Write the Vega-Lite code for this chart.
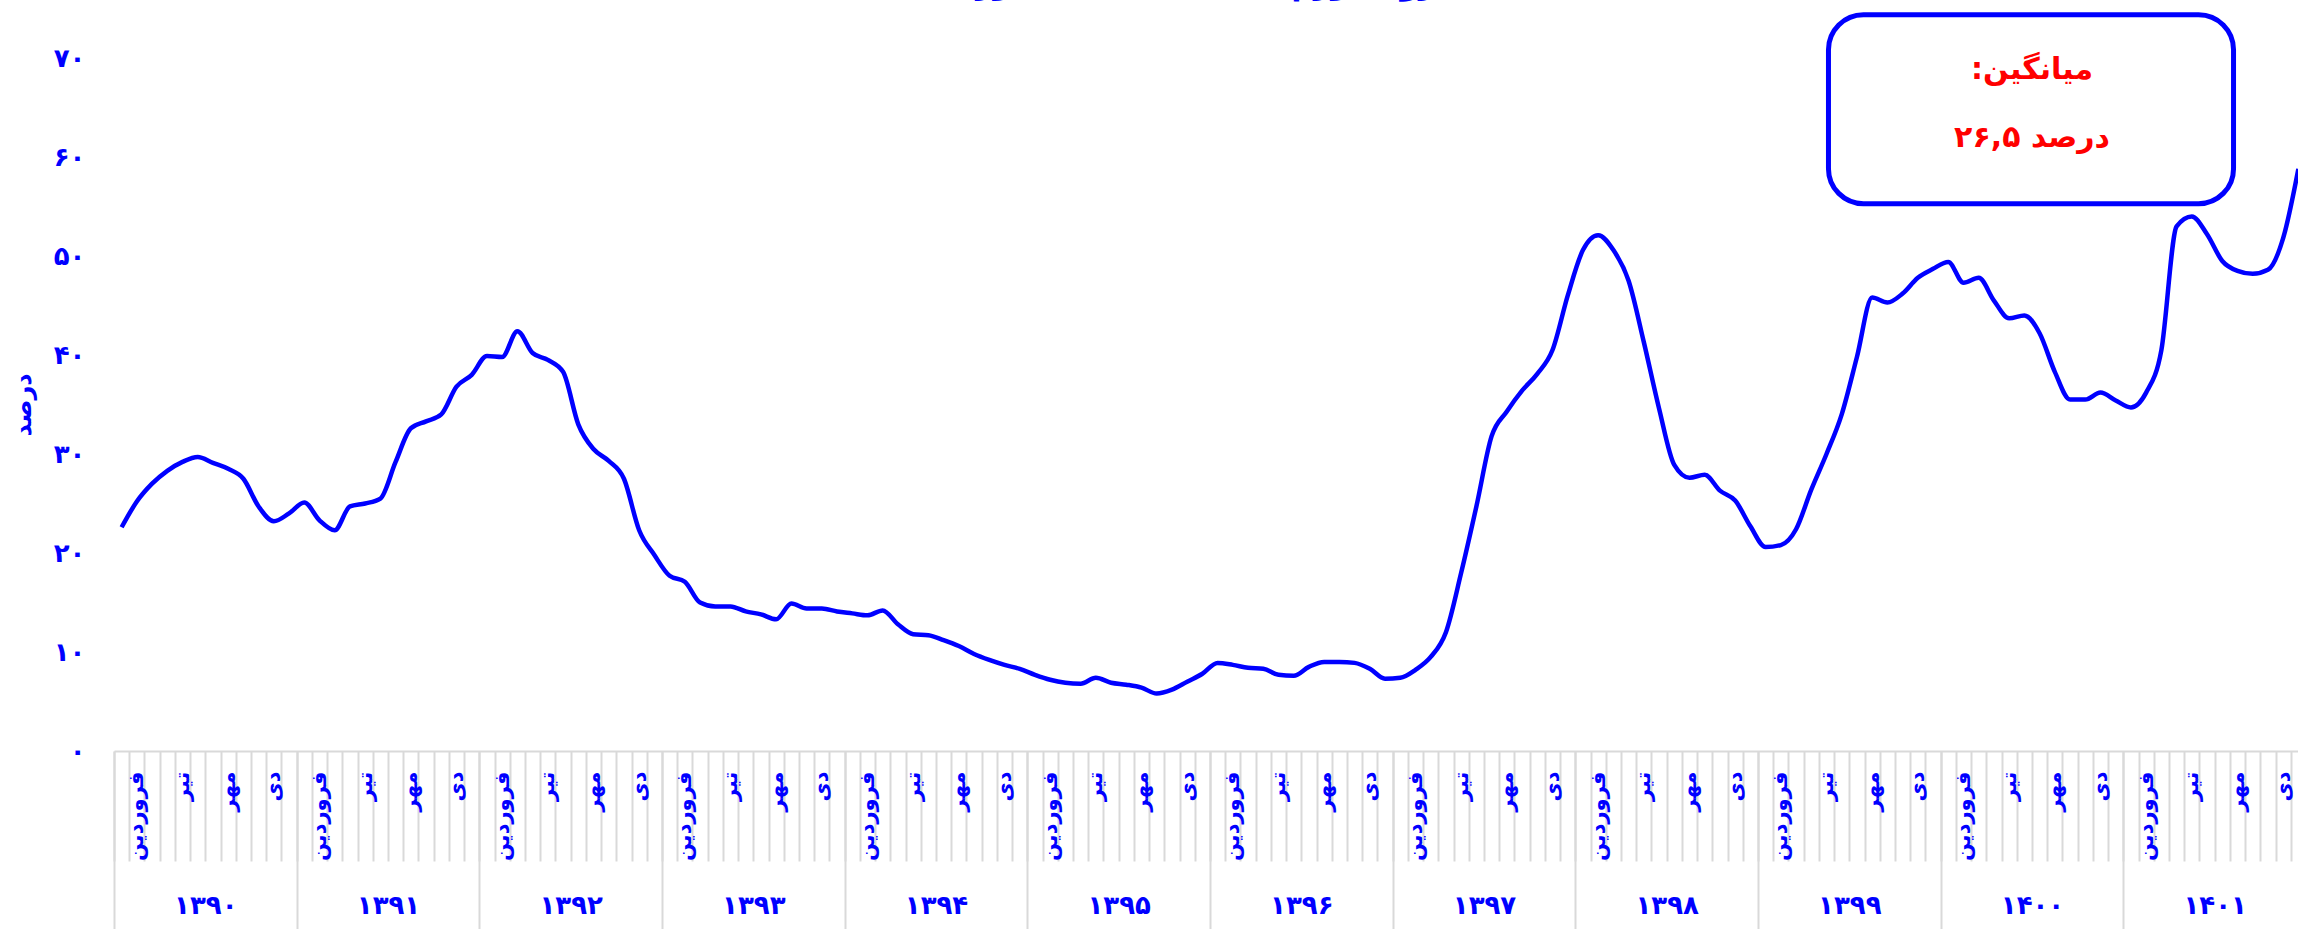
{
  "$schema": "https://vega.github.io/schema/vega-lite/v6.json",
  "autosize": {"type": "none"},
  "padding": {"left": 114, "top": 58, "right": 0, "bottom": 178},
  "width": 2184,
  "height": 693,
  "background": "white",
  "config": {"view": {"stroke": null}, "font": "DejaVu Sans", "axis": {"grid": false}},
  "title": {"text": "روند تورم نقطه به نقطه کشور", "font": "DejaVu Sans", "fontSize": 30, "fontWeight": "bold", "color": "#0000FF", "anchor": "middle", "offset": 12},
  "data": {"values": [
    {"t":0,"v":22.6},{"t":1,"v":25.2},{"t":2,"v":27.0},{"t":3,"v":28.3},{"t":4,"v":29.2},{"t":5,"v":29.7},{"t":6,"v":29.1},{"t":7,"v":28.5},{"t":8,"v":27.5},{"t":9,"v":24.7},{"t":10,"v":23.2},{"t":11,"v":24.0},
    {"t":12,"v":25.1},{"t":13,"v":23.3},{"t":14,"v":22.3},{"t":15,"v":24.7},{"t":16,"v":25.0},{"t":17,"v":25.5},{"t":18,"v":29.2},{"t":19,"v":32.6},{"t":20,"v":33.3},{"t":21,"v":34.0},{"t":22,"v":36.8},{"t":23,"v":38.0},
    {"t":24,"v":39.9},{"t":25,"v":39.8},{"t":26,"v":42.4},{"t":27,"v":40.2},{"t":28,"v":39.5},{"t":29,"v":38.3},{"t":30,"v":33.0},{"t":31,"v":30.5},{"t":32,"v":29.3},{"t":33,"v":27.5},{"t":34,"v":22.3},{"t":35,"v":19.8},
    {"t":36,"v":17.7},{"t":37,"v":17.1},{"t":38,"v":15.0},{"t":39,"v":14.6},{"t":40,"v":14.6},{"t":41,"v":14.1},{"t":42,"v":13.8},{"t":43,"v":13.3},{"t":44,"v":14.9},{"t":45,"v":14.4},{"t":46,"v":14.4},{"t":47,"v":14.1},
    {"t":48,"v":13.9},{"t":49,"v":13.7},{"t":50,"v":14.2},{"t":51,"v":12.8},{"t":52,"v":11.8},{"t":53,"v":11.7},{"t":54,"v":11.2},{"t":55,"v":10.6},{"t":56,"v":9.8},{"t":57,"v":9.2},{"t":58,"v":8.7},{"t":59,"v":8.3},
    {"t":60,"v":7.7},{"t":61,"v":7.2},{"t":62,"v":6.9},{"t":63,"v":6.8},{"t":64,"v":7.4},{"t":65,"v":6.9},{"t":66,"v":6.7},{"t":67,"v":6.4},{"t":68,"v":5.8},{"t":69,"v":6.2},{"t":70,"v":7.0},{"t":71,"v":7.8},
    {"t":72,"v":8.9},{"t":73,"v":8.7},{"t":74,"v":8.4},{"t":75,"v":8.3},{"t":76,"v":7.7},{"t":77,"v":7.6},{"t":78,"v":8.5},{"t":79,"v":9.0},{"t":80,"v":9.0},{"t":81,"v":8.9},{"t":82,"v":8.3},{"t":83,"v":7.3},
    {"t":84,"v":7.4},{"t":85,"v":8.2},{"t":86,"v":9.5},{"t":87,"v":12.0},{"t":88,"v":18.0},{"t":89,"v":24.7},{"t":90,"v":31.8},{"t":91,"v":34.3},{"t":92,"v":36.4},{"t":93,"v":38.1},{"t":94,"v":40.5},{"t":95,"v":46.0},
    {"t":96,"v":50.6},{"t":97,"v":52.1},{"t":98,"v":50.6},{"t":99,"v":47.5},{"t":100,"v":41.3},{"t":101,"v":34.6},{"t":102,"v":28.9},{"t":103,"v":27.6},{"t":104,"v":27.9},{"t":105,"v":26.3},{"t":106,"v":25.3},{"t":107,"v":22.7},
    {"t":108,"v":20.6},{"t":109,"v":20.8},{"t":110,"v":22.4},{"t":111,"v":26.4},{"t":112,"v":30.0},{"t":113,"v":34.0},{"t":114,"v":39.8},{"t":115,"v":45.8},{"t":116,"v":45.3},{"t":117,"v":46.2},{"t":118,"v":47.8},{"t":119,"v":48.7},
    {"t":120,"v":49.4},{"t":121,"v":47.3},{"t":122,"v":47.8},{"t":123,"v":45.5},{"t":124,"v":43.7},{"t":125,"v":44.0},{"t":126,"v":42.2},{"t":127,"v":38.3},{"t":128,"v":35.5},{"t":129,"v":35.5},{"t":130,"v":36.2},{"t":131,"v":35.4},
    {"t":132,"v":34.7},{"t":133,"v":36.2},{"t":134,"v":40.5},{"t":135,"v":53.0},{"t":136,"v":54.0},{"t":137,"v":52.2},{"t":138,"v":49.5},{"t":139,"v":48.5},{"t":140,"v":48.2},{"t":141,"v":48.6},{"t":142,"v":51.8},{"t":143,"v":58.8}
  ]},
  "layer": [
    {
      "mark": {"type": "line", "color": "#0000FF", "strokeWidth": 4.5, "interpolate": "monotone", "clip": false},
      "encoding": {
        "x": {"field": "t", "type": "quantitative", "scale": {"domain": [-0.5, 142.975], "nice": false, "zero": false},
          "axis": {"orient": "bottom", "title": null, "labels": false, "grid": false,
            "values": [-0.5,0.5,1.5,2.5,3.5,4.5,5.5,6.5,7.5,8.5,9.5,10.5,11.5,12.5,13.5,14.5,15.5,16.5,17.5,18.5,19.5,20.5,21.5,22.5,23.5,24.5,25.5,26.5,27.5,28.5,29.5,30.5,31.5,32.5,33.5,34.5,35.5,36.5,37.5,38.5,39.5,40.5,41.5,42.5,43.5,44.5,45.5,46.5,47.5,48.5,49.5,50.5,51.5,52.5,53.5,54.5,55.5,56.5,57.5,58.5,59.5,60.5,61.5,62.5,63.5,64.5,65.5,66.5,67.5,68.5,69.5,70.5,71.5,72.5,73.5,74.5,75.5,76.5,77.5,78.5,79.5,80.5,81.5,82.5,83.5,84.5,85.5,86.5,87.5,88.5,89.5,90.5,91.5,92.5,93.5,94.5,95.5,96.5,97.5,98.5,99.5,100.5,101.5,102.5,103.5,104.5,105.5,106.5,107.5,108.5,109.5,110.5,111.5,112.5,113.5,114.5,115.5,116.5,117.5,118.5,119.5,120.5,121.5,122.5,123.5,124.5,125.5,126.5,127.5,128.5,129.5,130.5,131.5,132.5,133.5,134.5,135.5,136.5,137.5,138.5,139.5,140.5,141.5,142.5],
            "ticks": true, "tickSize": 110, "tickColor": "#d9d9d9", "tickWidth": 2,
            "domain": true, "domainColor": "#d9d9d9", "domainWidth": 2}},
        "y": {"field": "v", "type": "quantitative", "scale": {"domain": [0, 70], "nice": false, "zero": true},
          "axis": {"values": [0,10,20,30,40,50,60,70], "grid": false, "ticks": false, "domain": false,
            "labelExpr": "['۰','۱۰','۲۰','۳۰','۴۰','۵۰','۶۰','۷۰'][round(datum.value / 10)]",
            "labelFont": "DejaVu Sans", "labelFontSize": 26, "labelFontWeight": "bold", "labelColor": "#0000FF", "labelPadding": 29,
            "title": "درصد", "titleFont": "DejaVu Sans", "titleFontSize": 24, "titleFontWeight": "bold", "titleColor": "#0000FF", "titlePadding": 18}}
      }
    },
    {
      "mark": {"type": "point", "opacity": 0},
      "encoding": {
        "x": {"field": "t", "type": "quantitative", "scale": {"domain": [-0.5, 142.975], "nice": false, "zero": false},
          "axis": {"orient": "bottom", "title": null, "grid": false, "ticks": false, "domain": false,
            "values": [1,4,7,10,13,16,19,22,25,28,31,34,37,40,43,46,49,52,55,58,61,64,67,70,73,76,79,82,85,88,91,94,97,100,103,106,109,112,115,118,121,124,127,130,133,136,139,142],
            "labelExpr": "['فروردین','تیر','مهر','دی'][((datum.value % 12) - 1) / 3]",
            "labelAngle": -90, "labelAlign": "right", "labelBaseline": "middle", "labelPadding": 20,
            "labelOverlap": false, "labelFlush": false, "labelBound": false,
            "labelFont": "DejaVu Sans", "labelFontSize": 21, "labelFontWeight": "bold", "labelColor": "#0000FF"}}
      }
    },
    {
      "mark": {"type": "point", "opacity": 0},
      "encoding": {
        "x": {"field": "t", "type": "quantitative", "scale": {"domain": [-0.5, 142.975], "nice": false, "zero": false},
          "axis": {"orient": "bottom", "title": null, "grid": false, "labels": false, "domain": false,
            "values": [-0.5,11.5,23.5,35.5,47.5,59.5,71.5,83.5,95.5,107.5,119.5,131.5],
            "ticks": true, "tickSize": 180, "tickColor": "#d9d9d9", "tickWidth": 2}}
      }
    },
    {
      "mark": {"type": "point", "opacity": 0},
      "encoding": {
        "x": {"field": "t", "type": "quantitative", "scale": {"domain": [-0.5, 142.975], "nice": false, "zero": false},
          "axis": {"orient": "bottom", "title": null, "grid": false, "ticks": false, "domain": false,
            "values": [5.5,17.5,29.5,41.5,53.5,65.5,77.5,89.5,101.5,113.5,125.5,137.5],
            "labelExpr": "['۱۳۹۰','۱۳۹۱','۱۳۹۲','۱۳۹۳','۱۳۹۴','۱۳۹۵','۱۳۹۶','۱۳۹۷','۱۳۹۸','۱۳۹۹','۱۴۰۰','۱۴۰۱'][floor(datum.value / 12)]",
            "labelAngle": 0, "labelAlign": "center", "labelBaseline": "top", "labelPadding": 141,
            "labelOverlap": false, "labelFlush": false, "labelBound": false,
            "labelFont": "DejaVu Sans", "labelFontSize": 26, "labelFontWeight": "bold", "labelColor": "#0000FF"}}
      }
    },
    {
      "data": {"values": [{"box": "average"}]},
      "mark": {"type": "rect", "fill": "white", "stroke": "#0000FF", "strokeWidth": 5, "cornerRadius": 35, "clip": false},
      "encoding": {
        "x": {"datum": 112.13, "type": "quantitative", "scale": {"domain": [-0.5, 142.975], "nice": false, "zero": false}, "axis": null},
        "x2": {"datum": 138.74},
        "y": {"datum": 74.37, "type": "quantitative", "scale": {"domain": [0, 70], "nice": false, "zero": true}, "axis": null},
        "y2": {"datum": 55.29}
      }
    },
    {
      "data": {"values": [{"label": "average"}]},
      "mark": {"type": "text", "color": "#FF0000", "font": "DejaVu Sans", "fontSize": 30, "fontWeight": "bold", "align": "center", "baseline": "middle", "lineHeight": 68, "clip": false},
      "encoding": {
        "x": {"datum": 125.5, "type": "quantitative", "scale": {"domain": [-0.5, 142.975], "nice": false, "zero": false}, "axis": null},
        "y": {"datum": 68.8, "type": "quantitative", "scale": {"domain": [0, 70], "nice": false, "zero": true}, "axis": null},
        "text": {"value": ["میانگین:\u200f", "۲۶,۵ درصد"]}
      }
    }
  ],
  "resolve": {"scale": {"x": "shared", "y": "shared"}, "axis": {"x": "independent", "y": "independent"}}
}
